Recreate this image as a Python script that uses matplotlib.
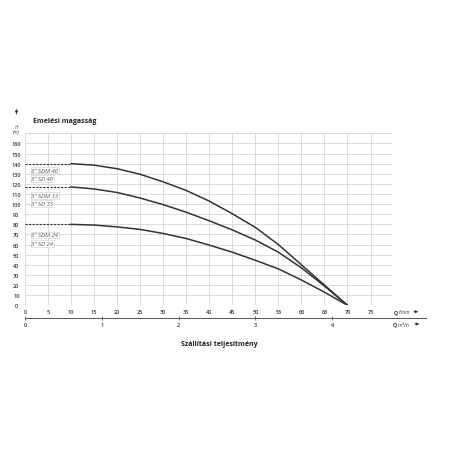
import matplotlib
matplotlib.use("Agg")
from matplotlib import pyplot as plt
from matplotlib.patches import FancyArrowPatch

plt.rcParams['font.family'] = ['Open Sans', 'DejaVu Sans']

# flow in l/min and head in m
flow = [10, 15, 20, 25, 30, 35, 40, 45, 50, 55, 60, 65, 70]
head_40 = [140, 138.5, 135, 129.5, 122, 113.5, 103, 90.5, 77, 60, 40, 20, 0]
head_33 = [117, 115, 111.5, 106, 99.5, 92, 83.5, 74.5, 64.5, 52.5, 37, 19, 0]
head_24 = [80, 79.3, 77.5, 75, 71, 66, 59.5, 52.5, 44.5, 36, 25, 13, 0]

pump_labels = [('3" SDM 40', '3" SD 40'), ('3" SDM 33', '3" SD 33'), ('3" SDM 24', '3" SD 24')]
label_heads = [(133.7, 125.5), (108.3, 100.8), (69.5, 61.3)]

x_ticks = list(range(0, 80, 5))
y_ticks = list(range(0, 180, 10))
y_tick_labels = [str(v) for v in y_ticks[:-1]] + ['']
m3h_ticks = [0, 1, 2, 3, 4]

W = 456.0
X_MAX = 79.6
fig = plt.figure(figsize=(4.56, 4.56), dpi=100)
ax = fig.add_axes([25 / W, 1 - 306.3 / W, (391.7 - 25) / W, (306.3 - 134.3) / W])

ax.set_xlim(0, X_MAX)
ax.set_ylim(0, 170)
ax.set_xticks(x_ticks)
ax.set_yticks(y_ticks)
ax.set_yticklabels(y_tick_labels)
ax.grid(True, color='#d4d4d4', lw=0.6)
ax.set_axisbelow(True)
for s in ax.spines.values():
    s.set_visible(False)
ax.tick_params(axis='both', length=0, labelsize=4, labelcolor='#333333')
ax.tick_params(axis='x', pad=2.8)
ax.tick_params(axis='y', pad=6.3)
for t in ax.get_yticklabels() + ax.get_xticklabels():
    t.set_fontweight('semibold')
for t in ax.get_yticklabels():
    t.set_horizontalalignment('center')

for heads, names, pos in zip([head_40, head_33, head_24], pump_labels, label_heads):
    ax.plot([0, flow[0]], [heads[0], heads[0]], color='#333333', lw=0.8, ls=(0, (2, 1.2)))
    ax.plot(flow, heads, color='#333333', lw=1.1, solid_joinstyle='round')
    for name, y in zip(names, pos):
        ax.text(1.4, y, name, fontsize=4.3, style='italic', color='#555555',
                ha='left', va='center',
                bbox=dict(boxstyle='square,pad=0.15', fc='white', ec='#cccccc', lw=0.4))

# second scale in m3/h under the main one
sec_right = X_MAX * (426 - 25) / (391.7 - 25) * 0.06
ax2 = fig.add_axes([25 / W, 1 - 319.3 / W, (426 - 25) / W, 0.0001])
ax2.set_xlim(0, sec_right)
ax2.set_ylim(0, 1)
ax2.set_xticks(m3h_ticks)
ax2.set_yticks([])
for k in ['top', 'left', 'right']:
    ax2.spines[k].set_visible(False)
ax2.spines['bottom'].set_color('#555555')
ax2.spines['bottom'].set_linewidth(0.7)
ax2.tick_params(axis='x', direction='inout', length=3, width=0.6, color='#555555',
                labelsize=4, labelcolor='#333333', pad=1.5)
for t in ax2.get_xticklabels():
    t.set_fontweight('semibold')
ax2.patch.set_visible(False)


def fx(px):
    return px / W


def fy(py):
    return 1 - py / W


def arrow(x0, y0, x1, y1):
    fig.patches.append(FancyArrowPatch((fx(x0), fy(y0)), (fx(x1), fy(y1)), transform=fig.transFigure,
                                       arrowstyle='-|>', mutation_scale=4, lw=0.6, color='#333333'))


fig.text(fx(394), fy(312.7), 'Q', fontsize=3.8, weight='bold', color='#333333', ha='left', va='center')
fig.text(fx(398.5), fy(312.7), 'l/min', fontsize=3.5, style='italic', color='#333333', ha='left', va='center')
fig.text(fx(393), fy(325), 'Q', fontsize=3.8, weight='bold', color='#333333', ha='left', va='center')
fig.text(fx(397.5), fy(325), r'm$^3$/h', fontsize=3.5, style='italic', color='#333333', ha='left', va='center')
arrow(411, 312.7, 421, 312.7)
arrow(412, 325, 422, 325)

# y axis caption
arrow(16.5, 118, 16.5, 107)
fig.text(fx(16.5), fy(127.3), 'H', fontsize=3.5, style='italic', color='#444444', ha='center', va='center')
fig.text(fx(16.5), fy(132.7), '(m)', fontsize=3.5, style='italic', color='#444444', ha='center', va='center')

fig.text(fx(33), fy(121.7), 'Emelési magasság', fontsize=5, weight='bold', color='#222222', ha='left', va='center')
fig.text(fx(219), fy(345), 'Szállítási teljesítmény', fontsize=5, weight='bold', color='#222222', ha='center', va='center')

fig.savefig('out.png', dpi=100, facecolor='white')
